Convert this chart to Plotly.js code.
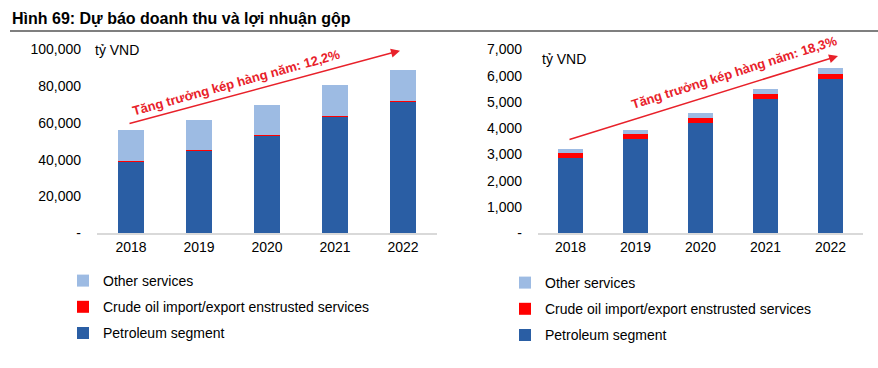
<!DOCTYPE html>
<html>
<head>
<meta charset="utf-8">
<script src="https://cdn.plot.ly/plotly-3.0.1.min.js"></script>
<style>
html,body{margin:0;padding:0;background:#fff;}
#chart{width:878px;height:368px;}
</style>
</head>
<body>
<div id="chart"></div>
<script>
// ---- data ----
const years = ['2018', '2019', '2020', '2021', '2022'];
// Left: revenue (tỷ VND)
const revPetroleum = [39000, 44500, 52700, 63300, 71400];
const revCrude = [550, 560, 570, 580, 600];
const revOther = [16650, 16640, 16630, 16920, 16600];
// Right: gross profit (tỷ VND)
const gpPetroleum = [2880, 3570, 4200, 5100, 5880];
const gpCrude = [175, 190, 190, 195, 190];
const gpOther = [150, 165, 190, 200, 210];

const seriesNames = ['Petroleum segment', 'Crude oil import/export enstrusted services', 'Other services'];
const seriesColors = ['#2A5EA4', '#FF0000', '#9DBBE3'];
const legendRanks = [3, 2, 1];

const leftTicks = [0, 20000, 40000, 60000, 80000, 100000];
const leftTickText = ['-', '20,000', '40,000', '60,000', '80,000', '100,000'];
const rightTicks = [0, 1000, 2000, 3000, 4000, 5000, 6000, 7000];
const rightTickText = ['-', '1,000', '2,000', '3,000', '4,000', '5,000', '6,000', '7,000'];

const titleText = 'Hình 69: Dự báo doanh thu và lợi nhuận gộp';
const unitText = 'tỷ VND';
const leftCagr = 'Tăng trưởng kép hàng năm: 12,2%';
const rightCagr = 'Tăng trưởng kép hàng năm: 18,3%';

const FONT = '"Liberation Sans", Arial, sans-serif';
const RED = '#E8212A';

const leftData = [revPetroleum, revCrude, revOther];
const rightData = [gpPetroleum, gpCrude, gpOther];

const traces = [];
leftData.forEach((vals, i) => {
  traces.push({
    type: 'bar', x: years, y: vals, name: seriesNames[i],
    marker: {color: seriesColors[i], line: {width: 0}},
    xaxis: 'x', yaxis: 'y', legend: 'legend', legendgroup: 'L' + i, legendrank: legendRanks[i],
    hoverinfo: 'skip'
  });
});
rightData.forEach((vals, i) => {
  traces.push({
    type: 'bar', x: years, y: vals, name: seriesNames[i],
    marker: {color: seriesColors[i], line: {width: 0}},
    xaxis: 'x2', yaxis: 'y2', legend: 'legend2', legendgroup: 'R' + i, legendrank: legendRanks[i],
    hoverinfo: 'skip'
  });
});

const tickFont = {family: FONT, size: 14, color: '#000'};
const yDomain = [0.366, 0.866];

const legendCommon = {
  orientation: 'v', traceorder: 'grouped', tracegroupgap: 5,
  font: {family: FONT, size: 14, color: '#000'},
  bgcolor: 'rgba(0,0,0,0)', xanchor: 'left', yanchor: 'top', borderwidth: 0
};

const layout = {
  width: 878, height: 368,
  margin: {l: 0, r: 0, t: 0, b: 0},
  paper_bgcolor: '#fff', plot_bgcolor: '#fff',
  barmode: 'stack', bargap: 0.61,
  showlegend: true,
  font: {family: FONT, size: 14, color: '#000'},
  title: {
    text: '<b>' + titleText + '</b>',
    x: 12 / 878, xanchor: 'left', xref: 'paper',
    y: 1 - 18 / 368, yanchor: 'middle', yref: 'paper',
    font: {family: FONT, size: 16, color: '#000'}
  },
  xaxis: {
    domain: [97 / 878, 437 / 878], anchor: 'y', type: 'category',
    showline: true, linecolor: '#D9D9D9', linewidth: 1.5,
    ticks: '', showgrid: false, zeroline: false, tickfont: tickFont
  },
  yaxis: {
    domain: yDomain, anchor: 'x', range: [0, 100000],
    tickvals: leftTicks, ticktext: leftTickText,
    showgrid: false, zeroline: false, showline: false, ticks: '',
    ticklabelstandoff: 15, tickfont: tickFont
  },
  xaxis2: {
    domain: [538 / 878, 863 / 878], anchor: 'y2', type: 'category',
    showline: true, linecolor: '#D9D9D9', linewidth: 1.5,
    ticks: '', showgrid: false, zeroline: false, tickfont: tickFont
  },
  yaxis2: {
    domain: yDomain, anchor: 'x2', range: [0, 7000],
    tickvals: rightTicks, ticktext: rightTickText,
    showgrid: false, zeroline: false, showline: false, ticks: '',
    ticklabelstandoff: 15, tickfont: tickFont
  },
  legend: Object.assign({}, legendCommon, {x: 63 / 878, y: 1 - 265 / 368}),
  legend2: Object.assign({}, legendCommon, {x: 505 / 878, y: 1 - 267 / 368}),
  shapes: [
    {type: 'line', xref: 'paper', yref: 'paper', x0: 10 / 878, x1: 1, y0: 1 - 31 / 368, y1: 1 - 31 / 368,
     line: {color: '#000', width: 1.2}}
  ],
  annotations: [
    {text: unitText, xref: 'paper', yref: 'paper', x: 93 / 878, y: 1 - 50 / 368,
     xanchor: 'left', yanchor: 'middle', showarrow: false, font: {family: FONT, size: 14, color: '#000'}},
    {text: unitText, xref: 'paper', yref: 'paper', x: 540 / 878, y: 1 - 59 / 368,
     xanchor: 'left', yanchor: 'middle', showarrow: false, font: {family: FONT, size: 14, color: '#000'}},
    // arrows
    {text: '', xref: 'paper', yref: 'paper', x: 400 / 878, y: 1 - 50.7 / 368,
     ax: -272, ay: 73.3, axref: 'pixel', ayref: 'pixel', showarrow: true,
     arrowhead: 2, arrowsize: 1.2, arrowwidth: 1.5, arrowcolor: RED},
    {text: '', xref: 'paper', yref: 'paper', x: 838 / 878, y: 1 - 56 / 368,
     ax: -270, ay: 84, axref: 'pixel', ayref: 'pixel', showarrow: true,
     arrowhead: 2, arrowsize: 1.2, arrowwidth: 1.5, arrowcolor: RED},
    // CAGR texts
    {text: '<b>' + leftCagr + '</b>', xref: 'paper', yref: 'paper', x: 236.5 / 878, y: 1 - 82.5 / 368,
     xanchor: 'center', yanchor: 'middle', showarrow: false, textangle: -15.5,
     font: {family: FONT, size: 13, color: RED}},
    {text: '<b>' + rightCagr + '</b>', xref: 'paper', yref: 'paper', x: 734 / 878, y: 1 - 72.5 / 368,
     xanchor: 'center', yanchor: 'middle', showarrow: false, textangle: -17.5,
     font: {family: FONT, size: 13, color: RED}}
  ]
};

Plotly.newPlot('chart', traces, layout, {displayModeBar: false, staticPlot: true});
</script>
</body>
</html>
